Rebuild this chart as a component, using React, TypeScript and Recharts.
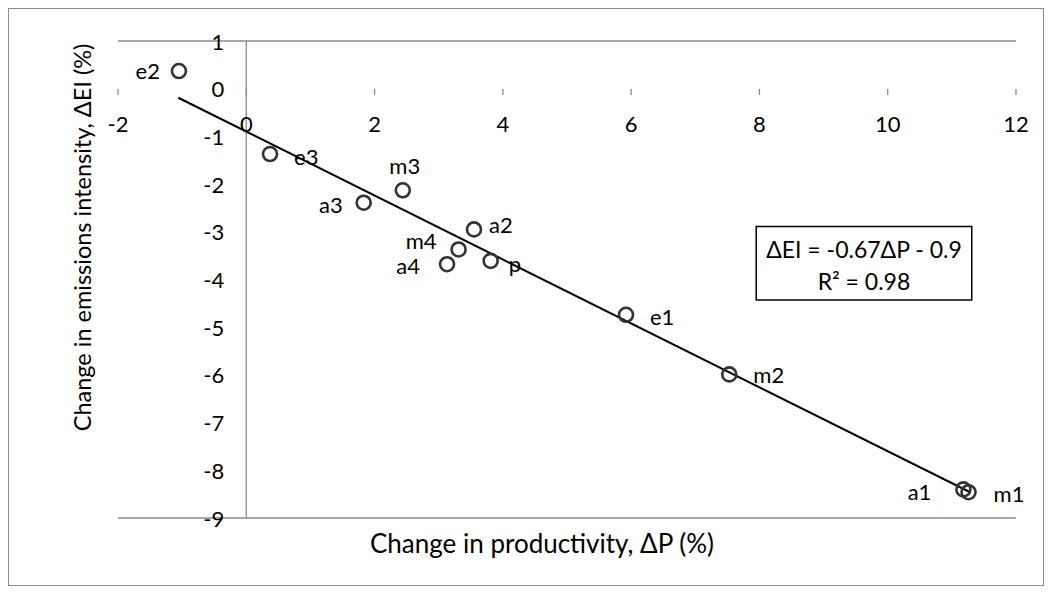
import React from "react";
import {
  ScatterChart,
  Scatter,
  XAxis,
  YAxis,
  CartesianGrid,
  ReferenceLine,
  ReferenceDot,
  ReferenceArea,
} from "recharts";

const pointNames = ["e2", "e3", "a3", "m3", "a2", "m4", "a4", "p", "e1", "m2", "a1", "m1"];
const deltaP = [-1.05, 0.37, 1.83, 2.44, 3.55, 3.31, 3.13, 3.81, 5.92, 7.53, 11.18, 11.26];
const deltaEI = [0.37, -1.37, -2.39, -2.13, -2.95, -3.37, -3.68, -3.61, -4.74, -5.99, -8.4, -8.46];

const xTicks = [-2, 0, 2, 4, 6, 8, 10, 12];
const yTicks = [1, 0, -1, -2, -3, -4, -5, -6, -7, -8, -9];

// trendline ends
const trendP = [-1.06, 11.27];
const trendEI = [-0.19, -8.45];

// equation box corners in data units
const boxP = [7.95, 11.31];
const boxEI = [-2.89, -4.43];
const equationLines = ["ΔEI = -0.67ΔP - 0.9", "R² = 0.98"];

const xTitle = "Change in productivity, ΔP (%)";
const yTitle = "Change in emissions intensity, ΔEI (%)";

const data = pointNames.map((name, i) => ({ name, dp: deltaP[i], dei: deltaEI[i] }));

// where each point's label sits
const labelSide: Record<string, { dx: number; dy: number; anchor: "start" | "end" | "middle" }> = {
  e2: { dx: -19, dy: -1, anchor: "end" },
  e3: { dx: 24, dy: 2, anchor: "start" },
  a3: { dx: -21, dy: 2, anchor: "end" },
  m3: { dx: 2, dy: -25, anchor: "middle" },
  a2: { dx: 15, dy: -5, anchor: "start" },
  m4: { dx: -22, dy: -9, anchor: "end" },
  a4: { dx: -27, dy: 1, anchor: "end" },
  p: { dx: 18, dy: 3, anchor: "start" },
  e1: { dx: 24, dy: 2, anchor: "start" },
  m2: { dx: 24, dy: 0, anchor: "start" },
  a1: { dx: -32, dy: 2, anchor: "end" },
  m1: { dx: 25, dy: 1, anchor: "start" },
};

const FONT = "Lato, 'Open Sans', sans-serif";
const GRID = "#8a8a8a";
const TEXT = "#000";

function PointShape(props: any) {
  const { cx, cy, payload } = props;
  const side = labelSide[payload.name];
  return (
    <g>
      <circle cx={cx} cy={cy} r={7} fill="none" stroke="#333" strokeWidth={2.6} />
      <text
        x={cx + side.dx}
        y={cy + side.dy}
        textAnchor={side.anchor}
        dominantBaseline="central"
        fontSize={22}
        fontFamily={FONT}
        fill={TEXT}
      >
        {payload.name}
      </text>
    </g>
  );
}

function xTickLabel(value: number) {
  return (props: any) => {
    const vb = props.viewBox;
    const cx = vb.x + vb.width / 2;
    const cy = vb.y + vb.height / 2;
    return (
      <text x={cx} y={cy + 35} textAnchor="middle" dominantBaseline="central" fontSize={22} fontFamily={FONT} fill={TEXT}>
        {value}
      </text>
    );
  };
}

function yTickLabel(value: number) {
  return (props: any) => {
    const vb = props.viewBox;
    const cx = vb.x + vb.width / 2;
    const cy = vb.y + vb.height / 2;
    return (
      <text x={cx - 22} y={cy} textAnchor="end" dominantBaseline="central" fontSize={22} fontFamily={FONT} fill={TEXT}>
        {value}
      </text>
    );
  };
}

function EquationLabel(props: any) {
  const vb = props.viewBox;
  const cx = vb.x + vb.width / 2;
  return (
    <text textAnchor="middle" dominantBaseline="central" fontSize={23} fontFamily={FONT} fill={TEXT}>
      <tspan x={cx} y={vb.y + 22}>{equationLines[0]}</tspan>
      <tspan x={cx} y={vb.y + 54}>{equationLines[1]}</tspan>
    </text>
  );
}

function XTitle(props: any) {
  const vb = props.viewBox;
  return (
    <text x={vb.x + vb.width / 2 - 25} y={vb.y + 35} textAnchor="middle" fontSize={26} fontFamily={FONT} fill={TEXT}>
      {xTitle}
    </text>
  );
}

function YTitle(props: any) {
  const vb = props.viewBox;
  const x = vb.x + 64;
  const y = vb.y + vb.height / 2 - 42;
  return (
    <text x={x} y={y} transform={`rotate(-90 ${x} ${y})`} textAnchor="middle" dominantBaseline="central" fontSize={23.5} fontFamily={FONT} fill={TEXT}>
      {yTitle}
    </text>
  );
}

export default function App() {
  return (
    <div style={{ width: 1034, height: 576, border: "1px solid #8c8c8c", background: "#fff" }}>
      <ScatterChart width={1034} height={576} margin={{ top: 32, right: 27, bottom: 7, left: 9 }}>
        <CartesianGrid vertical={false} stroke={GRID} strokeWidth={1.3} />
        <XAxis
          type="number"
          dataKey="dp"
          domain={[-2, 12]}
          ticks={xTicks}
          height={60}
          axisLine={false}
          tickLine={false}
          tick={false}
          label={{ content: XTitle }}
        />
        <YAxis
          type="number"
          dataKey="dei"
          domain={[-9, 1]}
          ticks={yTicks}
          width={100}
          axisLine={false}
          tickLine={false}
          tick={false}
          label={{ content: YTitle }}
        />
        <ReferenceLine x={0} stroke={GRID} strokeWidth={1.3} />
        {xTicks.map((t) => (
          <ReferenceLine
            key={"xt" + t}
            segment={[{ x: t, y: 0 }, { x: t, y: -0.13 }]}
            stroke={GRID}
            strokeWidth={1.3}
          />
        ))}
        {xTicks.map((t) => (
          <ReferenceDot key={"xl" + t} x={t} y={0} r={1} fill="none" stroke="none" label={{ content: xTickLabel(t) }} />
        ))}
        {yTicks.map((t) => (
          <ReferenceDot key={"yl" + t} x={0} y={t} r={1} fill="none" stroke="none" label={{ content: yTickLabel(t) }} />
        ))}
        <ReferenceLine
          segment={[{ x: trendP[0], y: trendEI[0] }, { x: trendP[1], y: trendEI[1] }]}
          stroke="#000"
          strokeWidth={2}
        />
        <ReferenceArea
          x1={boxP[0]}
          x2={boxP[1]}
          y1={boxEI[0]}
          y2={boxEI[1]}
          fill="#fff"
          fillOpacity={1}
          stroke="#000"
          strokeWidth={1.5}
          label={{ content: EquationLabel }}
        />
        <Scatter data={data} shape={PointShape} isAnimationActive={false} />
      </ScatterChart>
    </div>
  );
}
